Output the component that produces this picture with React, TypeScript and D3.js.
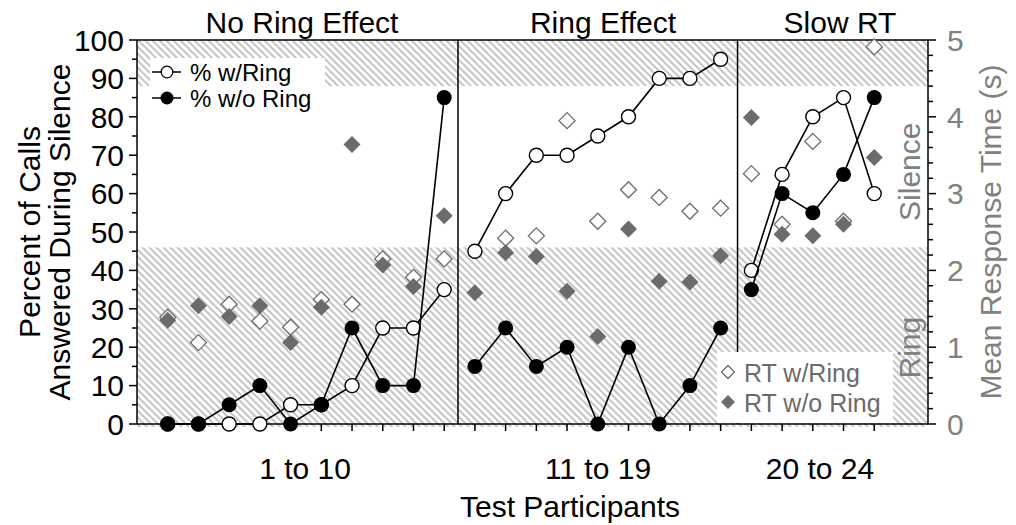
import React from "react";
import * as d3 from "d3";

// ---- data ----
const participants = d3.range(1, 25);
const sectionOf = [
  1, 1, 1, 1, 1, 1, 1, 1, 1, 1,
  2, 2, 2, 2, 2, 2, 2, 2, 2,
  3, 3, 3, 3, 3,
];
const pctWithRing = [0, 0, 0, 0, 5, 5, 10, 25, 25, 35, 45, 60, 70, 70, 75, 80, 90, 90, 95, 40, 65, 80, 85, 60];
const pctWithoutRing = [0, 0, 5, 10, 0, 5, 25, 10, 10, 85, 15, 25, 15, 20, 0, 20, 0, 10, 25, 35, 60, 55, 65, 85];
const rtWithRing: (number | null)[] = [1.39, 1.06, 1.56, 1.34, 1.26, 1.62, 1.56, 2.15, 1.91, 2.15, null, 2.42, 2.45, 3.95, 2.64, 3.05, 2.95, 2.77, 2.81, 3.26, 2.6, 3.68, 2.64, 4.91];
const rtWithoutRing = [1.35, 1.54, 1.4, 1.54, 1.06, 1.52, 3.64, 2.07, 1.79, 2.71, 1.71, 2.23, 2.18, 1.73, 1.14, 2.54, 1.86, 1.85, 2.19, 3.99, 2.47, 2.45, 2.6, 3.47];
const sectionTitles = ["No Ring Effect", "Ring Effect", "Slow RT"];
const sectionRanges = ["1 to 10", "11 to 19", "20 to 24"];
const dividers = [10.45, 19.55];
const leftTicks = d3.range(0, 101, 10);
const rightTicks = d3.range(0, 6, 1);
const ringBand = [0, 2.3];
const silenceBand = [4.4, 5];

const FONT = "'Liberation Sans', Arial, Helvetica, sans-serif";
const GRAY = "#6b6b6b";
const AXGRAY = "#808080";

export default function App() {
  const W = 1016, H = 525;
  const L = 137, R = 928, T = 40, B = 424;
  const x = d3.scaleLinear().domain([0, 25.75]).range([L, R]);
  const y = d3.scaleLinear().domain([0, 100]).range([B, T]);
  const yRT = d3.scaleLinear().domain([0, 5]).range([B, T]);

  const lineGen = d3
    .line<{ p: number; v: number }>()
    .x((d) => x(d.p))
    .y((d) => y(d.v));

  const sectionLines = (vals: number[]) =>
    [1, 2, 3].map((s) =>
      lineGen(
        participants
          .map((p, i) => ({ p, v: vals[i], s: sectionOf[i] }))
          .filter((d) => d.s === s)
      ) as string
    );

  const diamond = (cx: number, cy: number, r: number) =>
    `M${cx},${cy - r}L${cx + r},${cy}L${cx},${cy + r}L${cx - r},${cy}Z`;

  const leftMinor = d3.range(0, 101, 5).filter((v) => v % 10 !== 0);
  const rightMinor = d3.range(0, 5.01, 0.2).filter((v) => Math.abs(v - Math.round(v)) > 0.01);

  const titleX = [302, 603, 840];
  const rangeX = [305, 598, 820];

  return (
    <svg
      width={W}
      height={H}
      style={{ position: "absolute", left: 0, top: 0, background: "#fff" }}
      fontFamily={FONT}
    >
      <defs>
        <pattern id="hatch" patternUnits="userSpaceOnUse" width="7" height="7">
          <path d="M-2,-2L9,9M-2,5L2,9M5,-2L9,2" stroke="#c6c6c6" strokeWidth="2" />
        </pattern>
      </defs>

      {/* hatched bands */}
      <rect x={L} y={yRT(ringBand[1])} width={R - L} height={yRT(ringBand[0]) - yRT(ringBand[1]) + 3} fill="url(#hatch)" />
      <rect x={L} y={yRT(silenceBand[1])} width={R - L} height={yRT(silenceBand[0]) - yRT(silenceBand[1])} fill="url(#hatch)" />

      {/* frame */}
      <line x1={L} x2={R} y1={T} y2={T} stroke="#000" strokeWidth={1.5} />
      <line x1={L} x2={R} y1={B} y2={B} stroke="#000" strokeWidth={1.5} />
      <line x1={L} x2={L} y1={T} y2={B} stroke="#000" strokeWidth={1.5} />
      <line x1={R} x2={R} y1={T} y2={B} stroke="#000" strokeWidth={1.5} />
      {dividers.map((d, i) => (
        <line key={i} x1={x(d)} x2={x(d)} y1={T} y2={B} stroke="#000" strokeWidth={1.5} />
      ))}

      {/* left axis ticks */}
      {leftTicks.map((v) => (
        <g key={v}>
          <line x1={L - 8} x2={L} y1={y(v)} y2={y(v)} stroke="#000" strokeWidth={1.5} />
          <text x={124} y={y(v)} dy="0.36em" textAnchor="end" fontSize={30} fill="#000">
            {v}
          </text>
        </g>
      ))}
      {leftMinor.map((v) => (
        <line key={v} x1={L - 5} x2={L} y1={y(v)} y2={y(v)} stroke="#000" strokeWidth={1.5} />
      ))}

      {/* right axis ticks */}
      {rightTicks.map((v) => (
        <g key={v}>
          <line x1={R} x2={R + 8} y1={yRT(v)} y2={yRT(v)} stroke="#000" strokeWidth={1.5} />
          <text x={947} y={yRT(v)} dy="0.36em" textAnchor="start" fontSize={30} fill={AXGRAY}>
            {v}
          </text>
        </g>
      ))}
      {rightMinor.map((v) => (
        <line key={v} x1={R} x2={R + 5} y1={yRT(v)} y2={yRT(v)} stroke="#000" strokeWidth={1.5} />
      ))}

      {/* bottom ticks */}
      {participants.map((p) => (
        <line key={p} x1={x(p)} x2={x(p)} y1={B} y2={B + 7} stroke="#000" strokeWidth={1.5} />
      ))}

      {/* open diamonds: RT w/Ring */}
      {participants.map((p, i) =>
        rtWithRing[i] == null ? null : (
          <path key={p} d={diamond(x(p), yRT(rtWithRing[i] as number), 8)} fill="#fff" stroke={GRAY} strokeWidth={1.3} />
        )
      )}
      {/* filled diamonds: RT w/o Ring */}
      {participants.map((p, i) => (
        <path key={p} d={diamond(x(p), yRT(rtWithoutRing[i]), 8.5)} fill={GRAY} stroke="none" />
      ))}

      {/* % w/Ring lines & open circles */}
      {sectionLines(pctWithRing).map((d, i) => (
        <path key={i} d={d} fill="none" stroke="#000" strokeWidth={1.6} />
      ))}
      {participants.map((p, i) => (
        <circle key={p} cx={x(p)} cy={y(pctWithRing[i])} r={7} fill="#fff" stroke="#000" strokeWidth={1.4} />
      ))}
      {/* % w/o Ring lines & filled circles */}
      {sectionLines(pctWithoutRing).map((d, i) => (
        <path key={i} d={d} fill="none" stroke="#000" strokeWidth={1.6} />
      ))}
      {participants.map((p, i) => (
        <circle key={p} cx={x(p)} cy={y(pctWithoutRing[i])} r={7.5} fill="#000" />
      ))}

      {/* legend top-left */}
      <rect x={150} y={58} width={175} height={52} fill="#fff" />
      <line x1={152} x2={181} y1={72} y2={72} stroke="#000" strokeWidth={1.5} />
      <circle cx={167} cy={72} r={5.8} fill="#fff" stroke="#000" strokeWidth={1.3} />
      <text x={190} y={81} fontSize={24}>% w/Ring</text>
      <line x1={152} x2={181} y1={98} y2={98} stroke="#000" strokeWidth={1.5} />
      <circle cx={167} cy={98} r={6.5} fill="#000" />
      <text x={190} y={107} fontSize={24}>% w/o Ring</text>

      {/* legend bottom-right */}
      <rect x={717} y={352} width={176} height={71} fill="#fff" />
      <path d={diamond(728, 372, 6.5)} fill="#fff" stroke={GRAY} strokeWidth={1.3} />
      <text x={744} y={382} fontSize={25} fill={GRAY}>RT w/Ring</text>
      <path d={diamond(728, 402, 7)} fill={GRAY} />
      <text x={744} y={412} fontSize={25} fill={GRAY}>RT w/o Ring</text>

      {/* section titles */}
      {sectionTitles.map((t, i) => (
        <text key={t} x={titleX[i]} y={33} textAnchor="middle" fontSize={30}>
          {t}
        </text>
      ))}
      {sectionRanges.map((t, i) => (
        <text key={t} x={rangeX[i]} y={479} textAnchor="middle" fontSize={30}>
          {t}
        </text>
      ))}
      <text x={570} y={517} textAnchor="middle" fontSize={30}>
        Test Participants
      </text>

      {/* left axis label */}
      <text transform="translate(40,232) rotate(-90)" textAnchor="middle" fontSize={30}>
        Percent of Calls
      </text>
      <text transform="translate(70,232) rotate(-90)" textAnchor="middle" fontSize={30}>
        Answered During Silence
      </text>

      {/* right labels */}
      <text transform="translate(1001,232) rotate(-90)" textAnchor="middle" fontSize={30} fill={AXGRAY}>
        Mean Response Time (s)
      </text>
      <text transform={`translate(920,${(yRT(2.3) + yRT(4.4)) / 2 + 5}) rotate(-90)`} textAnchor="middle" fontSize={30} fill={AXGRAY}>
        Silence
      </text>
      <text transform={`translate(920,${(yRT(0) + yRT(2.3)) / 2 + 12}) rotate(-90)`} textAnchor="middle" fontSize={30} fill={AXGRAY}>
        Ring
      </text>
    </svg>
  );
}
